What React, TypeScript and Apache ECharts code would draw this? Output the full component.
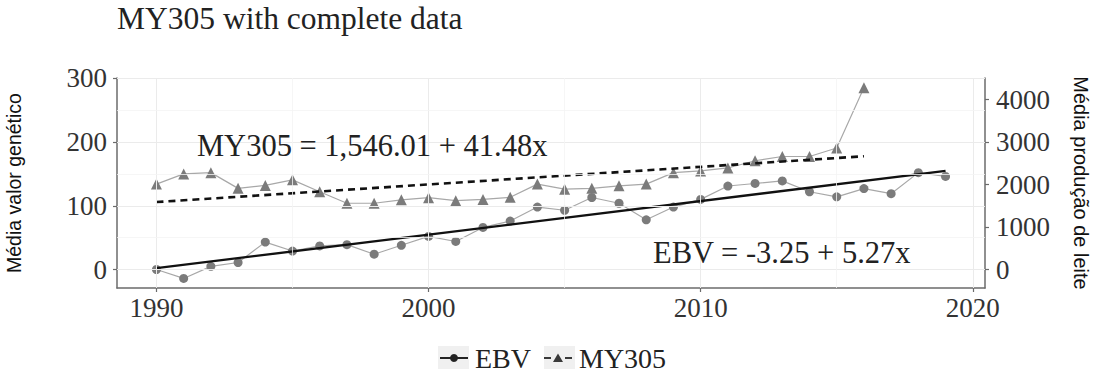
import React, { useEffect, useRef } from "react";
import * as echarts from "echarts";

// ---- Data ----
const years = [1990, 1991, 1992, 1993, 1994, 1995, 1996, 1997, 1998, 1999, 2000, 2001, 2002, 2003, 2004, 2005, 2006, 2007, 2008, 2009, 2010, 2011, 2012, 2013, 2014, 2015, 2016, 2017, 2018, 2019];
const ebvValues = [0, -14, 5, 11, 43, 29, 37, 39, 24, 38, 52, 44, 66, 76, 98, 93, 113, 104, 78, 98, 110, 131, 135, 139, 122, 114, 127, 119, 152, 146];
const my305Years = [1990, 1991, 1992, 1993, 1994, 1995, 1996, 1997, 1998, 1999, 2000, 2001, 2002, 2003, 2004, 2005, 2006, 2007, 2008, 2009, 2010, 2011, 2012, 2013, 2014, 2015, 2016];
const my305Values = [2010, 2250, 2280, 1910, 1980, 2110, 1830, 1560, 1560, 1640, 1690, 1620, 1650, 1700, 2010, 1890, 1910, 1970, 2010, 2280, 2320, 2390, 2560, 2660, 2660, 2860, 4280];
// regression line end points (EBV = -3.25 + 5.27x ; MY305 = 1546.01 + 41.48x)
const ebvTrend = [[1990, 2.02], [2019, 154.85]];
const my305Trend = [[1990, 1587.49], [2016, 2665.97]];

const xTicks = [1990, 2000, 2010, 2020];
const xMinor = [1995, 2005, 2015];
const yLeftTicks = [0, 100, 200, 300];
const yLeftMinor = [50, 150, 250];
const yRightTicks = [0, 1000, 2000, 3000, 4000];

const titleText = "MY305 with complete data";
const eqMy305 = "MY305 = 1,546.01 + 41.48x";
const eqEbv = "EBV = -3.25 + 5.27x";
const leftName = "Média valor genético";
const rightName = "Média produção de leite";

const SERIF = '"Liberation Serif", "Times New Roman", serif';
const SANS = '"Liberation Sans", Arial, sans-serif';
const AXIS_COLOR = "#6b6b6b";

const corner = "M0,0 L0.05,0 L0.05,0.05 Z M27.95,13.95 L28,14 L27.95,14 Z ";
const ebvIcon = "path://" + corner + "M0,6 L28,6 L28,8 L0,8 Z M14,3 A4,4 0 1 1 13.99,3 Z";
const myIcon = "path://" + corner + "M0,6 L7,6 L7,8 L0,8 Z M21,6 L28,6 L28,8 L21,8 Z M14,2.5 L19,11 L9,11 Z";

export default function App() {
  const ref = useRef<HTMLDivElement>(null);

  useEffect(() => {
    document.body.style.margin = "0";
    if (!ref.current) return;
    const chart = echarts.init(ref.current, undefined, { renderer: "svg" });

    const axisLabelBase = {
      fontFamily: SERIF,
      fontSize: 27,
      color: "#333",
      formatter: (v: number) => String(v),
    };

    const option: any = {
      animation: false,
      backgroundColor: "#ffffff",
      title: {
        text: titleText,
        left: 117,
        top: 2,
        padding: 0,
        textStyle: { fontFamily: SERIF, fontSize: 31.5, fontWeight: "normal", color: "#222" },
      },
      grid: { left: 117, top: 78, width: 868, height: 210, containLabel: false, outerBoundsMode: "none" },
      xAxis: {
        type: "value",
        min: 1988.55,
        max: 2020.45,
        axisLine: { show: true, onZero: false, lineStyle: { color: AXIS_COLOR, width: 1.5 } },
        axisTick: { show: true, length: 4, customValues: xTicks, lineStyle: { color: AXIS_COLOR, width: 1.2 } },
        axisLabel: { ...axisLabelBase, margin: 6, customValues: xTicks },
        splitLine: { show: false },
      },
      yAxis: [
        {
          type: "value",
          position: "left",
          min: -29,
          max: 300.5,
          name: leftName,
          nameLocation: "middle",
          nameRotate: 90,
          nameGap: 93,
          nameTextStyle: { fontFamily: SANS, fontSize: 19.5, color: "#111" },
          axisLine: { show: true, onZero: false, lineStyle: { color: AXIS_COLOR, width: 1.5 } },
          axisTick: { show: true, length: 4, customValues: yLeftTicks, lineStyle: { color: AXIS_COLOR, width: 1.2 } },
          axisLabel: { ...axisLabelBase, margin: 10, customValues: yLeftTicks },
          splitLine: { show: false },
        },
        {
          type: "value",
          position: "right",
          min: -29 * 15,
          max: 300.5 * 15,
          name: rightName,
          nameLocation: "middle",
          nameRotate: -90,
          nameGap: 86,
          nameTextStyle: { fontFamily: SANS, fontSize: 20, color: "#111" },
          axisLine: { show: true, onZero: false, lineStyle: { color: AXIS_COLOR, width: 1.5 } },
          axisTick: { show: true, length: 4, customValues: yRightTicks, lineStyle: { color: AXIS_COLOR, width: 1.2 } },
          axisLabel: { ...axisLabelBase, margin: 11, customValues: yRightTicks },
          splitLine: { show: false },
        },
      ],
      legend: {
        left: 440,
        top: 344,
        padding: 0,
        itemWidth: 28,
        itemHeight: 14,
        itemGap: 13,
        selectedMode: false,
        textStyle: { fontFamily: SERIF, fontSize: 28, color: "#222", padding: [0, 0, 0, 2] },
        data: [
          { name: "EBV", icon: ebvIcon, itemStyle: { color: "#222" } },
          { name: "MY305", icon: myIcon, itemStyle: { color: "#3a3a3a" } },
        ],
      },
      graphic: [
        { type: "rect", shape: { x: 438, y: 346, width: 31, height: 23 }, style: { fill: "#f0f0f0" }, z: 0 },
        { type: "rect", shape: { x: 544, y: 346, width: 31, height: 23 }, style: { fill: "#f0f0f0" }, z: 0 },
        {
          type: "text",
          x: 197,
          y: 146,
          z: 10,
          style: { text: eqMy305, fontFamily: SERIF, fontSize: 30.5, fill: "#222", textAlign: "left", textVerticalAlign: "middle" },
        },
        {
          type: "text",
          x: 653,
          y: 253,
          z: 10,
          style: { text: eqEbv, fontFamily: SERIF, fontSize: 30.5, fill: "#222", textAlign: "left", textVerticalAlign: "middle" },
        },
      ],
      series: [
        {
          name: "grid",
          type: "line",
          data: [[1990, 0]],
          symbol: "none",
          lineStyle: { opacity: 0 },
          silent: true,
          z: 1,
          markLine: {
            silent: true,
            symbol: ["none", "none"],
            label: { show: false },
            emphasis: { disabled: true },
            lineStyle: { color: "#ebebeb", width: 1, type: "solid" },
            data: [
              ...yLeftTicks.map((v) => ({ yAxis: v })),
              ...xTicks.map((v) => ({ xAxis: v })),
              ...yLeftMinor.map((v) => ({ yAxis: v, lineStyle: { color: "#f4f4f4", width: 0.8, type: "solid" } })),
              ...xMinor.map((v) => ({ xAxis: v, lineStyle: { color: "#f4f4f4", width: 0.8, type: "solid" } })),
            ],
          },
        },
        {
          name: "EBV",
          type: "line",
          yAxisIndex: 0,
          data: years.map((y, i) => [y, ebvValues[i]]),
          symbol: "circle",
          symbolSize: 9,
          itemStyle: { color: "#7b7b7b" },
          lineStyle: { color: "#a8a8a8", width: 1.2 },
          z: 3,
        },
        {
          name: "MY305",
          type: "line",
          yAxisIndex: 1,
          data: my305Years.map((y, i) => [y, my305Values[i]]),
          symbol: "triangle",
          symbolSize: 11,
          itemStyle: { color: "#7b7b7b" },
          lineStyle: { color: "#a8a8a8", width: 1.2 },
          z: 3,
        },
        {
          name: "EBV trend",
          type: "line",
          yAxisIndex: 0,
          data: ebvTrend,
          symbol: "none",
          lineStyle: { color: "#111", width: 2.3, type: "solid" },
          z: 4,
        },
        {
          name: "MY305 trend",
          type: "line",
          yAxisIndex: 1,
          data: my305Trend,
          symbol: "none",
          lineStyle: { color: "#111", width: 2.6, type: [7, 5] },
          z: 4,
        },
      ],
    };

    chart.setOption(option);
    return () => chart.dispose();
  }, []);

  return <div ref={ref} style={{ width: 1101, height: 379 }} />;
}
